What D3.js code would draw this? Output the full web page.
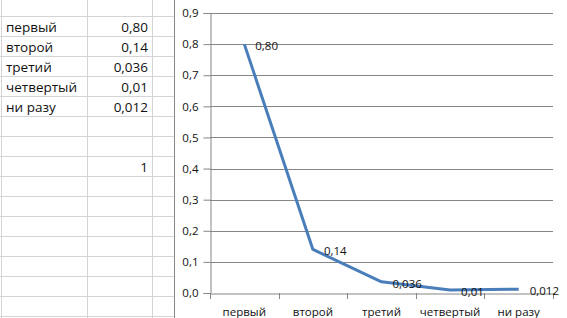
<!DOCTYPE html>
<html><head><meta charset="utf-8">
<script src="https://cdn.jsdelivr.net/npm/d3@7"></script>
<style>body{margin:0;background:#fff;}svg{display:block;font-family:"Open Sans",sans-serif;}</style>
</head><body>
<svg id="c" width="567" height="318"></svg>
<script>
const categories = ["первый","второй","третий","четвертый","ни разу"];
const values = [0.80, 0.14, 0.036, 0.01, 0.012];
const valueLabels = ["0,80","0,14","0,036","0,01","0,012"];
const yTicks = [0,0.1,0.2,0.3,0.4,0.5,0.6,0.7,0.8,0.9];
const extraCellValue = 1;

(function(){
const svg = d3.select("#c");
const fmt = d => d3.format(".1f")(d).replace(".", ",");

// spreadsheet background
const sheet = svg.append("g");
const gridCol = "#d4d4d4";
const rowYs = d3.range(16, 318, 20);
sheet.selectAll("line.r").data(rowYs).join("line")
  .attr("x1",0).attr("x2",174).attr("y1",d=>d+0.5).attr("y2",d=>d+0.5)
  .attr("stroke",gridCol);
sheet.selectAll("line.c").data([1,87,152]).join("line")
  .attr("x1",d=>d+0.5).attr("x2",d=>d+0.5).attr("y1",0).attr("y2",318)
  .attr("stroke",gridCol);
sheet.selectAll("text.cat").data(categories).join("text")
  .attr("x",6).attr("y",(d,i)=>32+i*20)
  .attr("font-size",13.5).attr("fill","#111").text(d=>d);
sheet.selectAll("text.val").data(valueLabels).join("text")
  .attr("x",148).attr("y",(d,i)=>32+i*20).attr("text-anchor","end")
  .attr("font-size",13.5).attr("fill","#111").text(d=>d);
sheet.append("text").attr("x",148).attr("y",172).attr("text-anchor","end")
  .attr("font-size",13.5).attr("fill","#111").text(extraCellValue);

// chart area
svg.append("rect").attr("x",174.5).attr("y",-1).attr("width",400).attr("height",330)
  .attr("fill","#fff").attr("stroke","#868686");

const pl = 210, pr = 553, pt = 13, pb = 293;
const x = d3.scaleBand().domain(categories).range([pl,pr]).padding(0);
const y = d3.scaleLinear().domain([0,0.9]).range([pb,pt]);

const g = svg.append("g");
g.selectAll("line.grid").data(yTicks.filter(d=>d>0)).join("line")
  .attr("x1",pl).attr("x2",pr).attr("y1",d=>Math.round(y(d))+0.5).attr("y2",d=>Math.round(y(d))+0.5)
  .attr("stroke","#868686").attr("stroke-width",1);

const yAxis = g.append("g").attr("transform",`translate(${pl+0.5},0)`)
  .call(d3.axisLeft(y).tickValues(yTicks).tickFormat(fmt).tickSize(7).tickPadding(5));
yAxis.select(".domain").attr("stroke","#868686");
yAxis.selectAll(".tick line").attr("stroke","#868686");
yAxis.selectAll(".tick text").attr("font-size",11.5).attr("fill","#111").attr("font-family","Open Sans");

const xAxis = g.append("g").attr("transform",`translate(0,${Math.round(y(0))+0.5})`)
  .call(d3.axisBottom(x).tickSize(0).tickPadding(14));
xAxis.select(".domain").attr("stroke","#868686");
xAxis.selectAll(".tick text").attr("font-size",11.5).attr("fill","#111").attr("font-family","Open Sans");
g.selectAll("line.xt").data(d3.range(categories.length+1)).join("line")
  .attr("x1",i=>Math.round(pl+i*x.bandwidth())+0.5).attr("x2",i=>Math.round(pl+i*x.bandwidth())+0.5)
  .attr("y1",y(0)).attr("y2",y(0)+6).attr("stroke","#868686");

const line = d3.line().x((d,i)=>x(categories[i])+x.bandwidth()/2).y(d=>y(d));
g.append("path").datum(values).attr("d",line)
  .attr("fill","none").attr("stroke","#4a7ebb").attr("stroke-width",3).attr("stroke-linejoin","round");

g.selectAll("text.lbl").data(values).join("text")
  .attr("x",(d,i)=>x(categories[i])+x.bandwidth()/2+11)
  .attr("y",d=>y(d)+6)
  .attr("font-size",11.5).attr("fill","#111")
  .text((d,i)=>valueLabels[i]);
})();
</script>
</body></html>
